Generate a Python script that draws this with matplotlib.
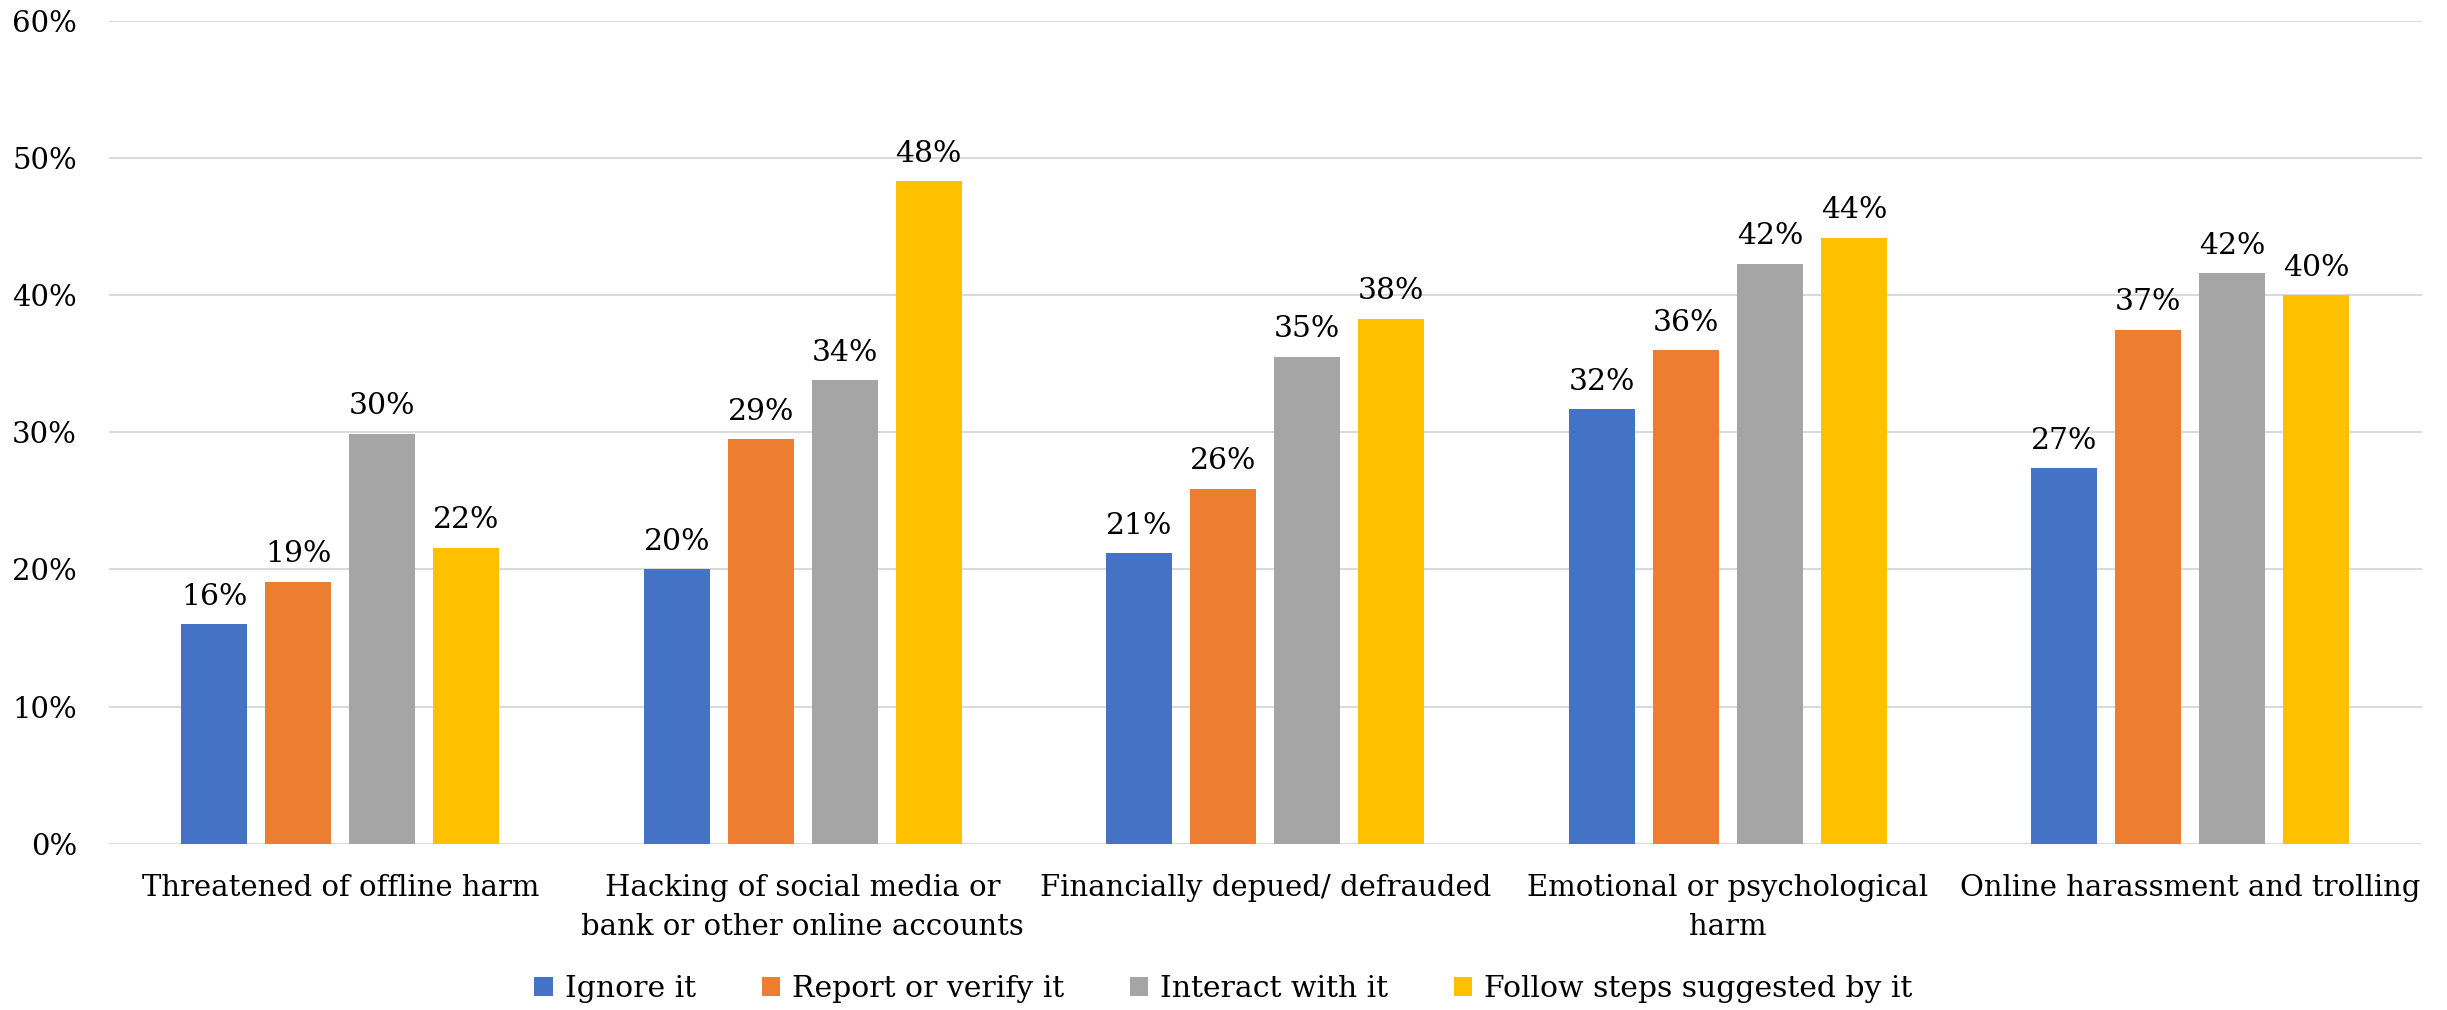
import numpy as np
import matplotlib
matplotlib.use('Agg')
import matplotlib.pyplot as plt
import matplotlib.patches as mpatches

# Data
categories = [
    'Threatened of offline harm',
    'Hacking of social media or\nbank or other online accounts',
    'Financially depued/ defrauded',
    'Emotional or psychological\nharm',
    'Online harassment and trolling',
]
series_names = ['Ignore it', 'Report or verify it', 'Interact with it', 'Follow steps suggested by it']
ignore_it = [16.0, 20.0, 21.2, 31.7, 27.4]
report_it = [19.1, 29.5, 25.9, 36.0, 37.5]
interact_it = [29.9, 33.8, 35.5, 42.3, 41.6]
follow_it = [21.6, 48.3, 38.3, 44.2, 40.0]
series_values = [ignore_it, report_it, interact_it, follow_it]
label_values = [
    [16, 20, 21, 32, 27],
    [19, 29, 26, 36, 37],
    [30, 34, 35, 42, 42],
    [22, 48, 38, 44, 40],
]
y_ticks = [0, 10, 20, 30, 40, 50, 60]

COLORS = ['#4472C4', '#ED7D31', '#A5A5A5', '#FFC000']
GRID_COLOR = '#d9d9d9'
TEXT_COLOR = '#000000'

plt.rcParams['font.family'] = ['DejaVu Serif']
FONT_SIZE = 21

fig = plt.figure(figsize=(24.47, 10.10), dpi=100)
ax = fig.add_axes([109 / 2447, 1 - 843.7 / 1010, (2421.7 - 109) / 2447, (843.7 - 21) / 1010])

x = np.arange(len(categories))
pitch = 0.1816
bar_width = 0.1427
offsets = (np.arange(len(series_names)) - 1.5) * pitch

for i, (name, vals) in enumerate(zip(series_names, series_values)):
    bars = ax.bar(x + offsets[i], vals, width=bar_width, color=COLORS[i],
                  label=name, zorder=3)
    for rect, lab in zip(bars, label_values[i]):
        ax.annotate(f'{lab}%', (rect.get_x() + rect.get_width() / 2, rect.get_height()),
                    xytext=(0, 14), textcoords='offset points', ha='center',
                    va='baseline', fontsize=FONT_SIZE + 0.5, color=TEXT_COLOR)

ax.set_xlim(-0.5, len(categories) - 0.5)
ax.set_ylim(0, 60)
ax.set_yticks(y_ticks)
ax.set_yticklabels([f'{t}%' for t in y_ticks])
ax.set_xticks(x)
ax.set_xticklabels(categories, linespacing=1.5)

ax.yaxis.grid(True, color=GRID_COLOR, linewidth=1.4, zorder=0)
ax.set_axisbelow(True)
for spine in ax.spines.values():
    spine.set_visible(False)
ax.tick_params(axis='both', length=0, labelsize=FONT_SIZE, colors=TEXT_COLOR)
ax.tick_params(axis='y', pad=23)
ax.tick_params(axis='x', pad=22)

handles = [mpatches.Patch(facecolor=c, label=n) for c, n in zip(COLORS, series_names)]
fig.legend(handles=handles, loc='center', bbox_to_anchor=(0.5, 1 - 989 / 1010),
           ncol=4, frameon=False, fontsize=FONT_SIZE + 0.5, handlelength=0.62,
           handleheight=0.62, handletextpad=0.4, columnspacing=2.2)

fig.savefig('out.png', dpi=100, facecolor='white')
